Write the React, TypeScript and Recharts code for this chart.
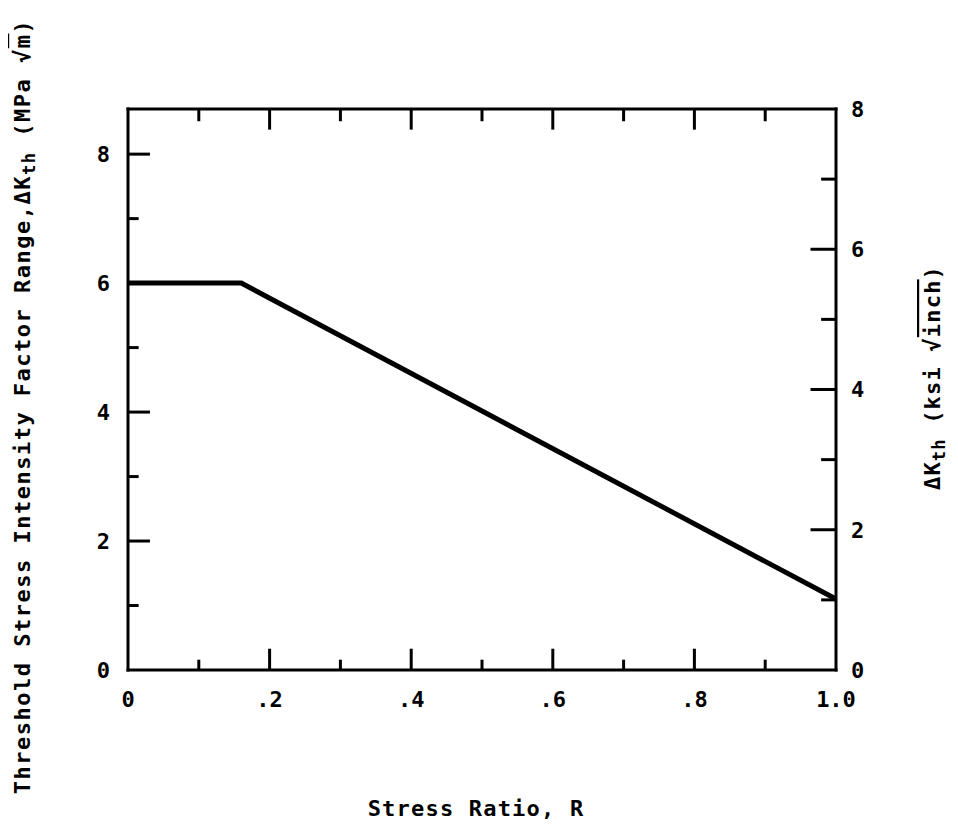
import React from "react";
import { LineChart, Line, XAxis, YAxis, ReferenceLine } from "recharts";

// Data
const stressRatio = [0, 0.16, 1.0];
const deltaKth = [6.0, 6.0, 1.1]; // MPa sqrt(m)

// Axis ticks
const xMajorTicks = [0, 0.2, 0.4, 0.6, 0.8, 1.0];
const xTickLabels = ["0", ".2", ".4", ".6", ".8", "1.0"];
const xMinorTicks = [0.1, 0.3, 0.5, 0.7, 0.9];
const leftMajorTicks = [0, 2, 4, 6, 8];
const leftMinorTicks = [1, 3, 5, 7];
const rightMajorTicks = [0, 2, 4, 6, 8];
const rightMinorTicks = [1, 3, 5, 7];
const leftDomain: [number, number] = [0, 8.7];
const rightDomain: [number, number] = [0, 8];

const data = stressRatio.map((r, i) => ({ r, k: deltaKth[i] }));

const FONT = "'DejaVu Sans Mono', monospace";
const axisLineStyle = { stroke: "#000", strokeWidth: 3, strokeLinecap: "square" as const };
const tickStyle = { fill: "#000", fontFamily: FONT, fontWeight: 700, fontSize: 22 };

const LeftTitle = (props: any) => {
  const vb = props.viewBox || { x: 0, y: 101, width: 120, height: 561 };
  const cx = vb.x + 14;
  const cy = vb.y + vb.height / 2 + 17;
  return (
    <text
      x={cx}
      y={cy}
      transform={`rotate(-90, ${cx}, ${cy})`}
      textAnchor="middle"
      dominantBaseline="central"
      fontFamily={FONT}
      fontWeight={700}
      fontSize={22}
      letterSpacing={1.5}
      fill="#000"
    >
      <tspan>Threshold Stress Intensity Factor Range,ΔK</tspan>
      <tspan dy={7} fontSize={17}>th</tspan>
      <tspan dy={-7}>{"  (MPa √"}</tspan>
      <tspan style={{ textDecoration: "overline" }}>m</tspan>
      <tspan>)</tspan>
    </text>
  );
};

const RightTitle = (props: any) => {
  const vb = props.viewBox || { x: 828, y: 101, width: 114, height: 561 };
  const cx = vb.x + 96;
  const cy = vb.y + vb.height / 2 - 12;
  return (
    <text
      x={cx}
      y={cy}
      transform={`rotate(-90, ${cx}, ${cy})`}
      textAnchor="middle"
      dominantBaseline="central"
      fontFamily={FONT}
      fontWeight={700}
      fontSize={22}
      letterSpacing={1.2}
      fill="#000"
    >
      <tspan>ΔK</tspan>
      <tspan dy={7} fontSize={17}>th</tspan>
      <tspan dy={-7}>{" (ksi √"}</tspan>
      <tspan style={{ textDecoration: "overline" }}>inch</tspan>
      <tspan>)</tspan>
    </text>
  );
};

const BottomTitle = (props: any) => {
  const vb = props.viewBox || { x: 120, y: 662, width: 708, height: 154 };
  return (
    <text
      x={vb.x + vb.width / 2 - 6}
      y={vb.y + 146}
      textAnchor="middle"
      fontFamily={FONT}
      fontWeight={700}
      fontSize={22}
      letterSpacing={1.2}
      fill="#000"
    >
      Stress Ratio, R
    </text>
  );
};

export default function App() {
  const interior = (arr: number[], lo: number, hi: number) => arr.filter((v) => v > lo && v < hi);
  return (
    <div style={{ width: 942, height: 816, background: "#fff" }}>
      <LineChart
        width={942}
        height={816}
        data={data}
        margin={{ top: 101, right: 0, bottom: 0, left: 0 }}
      >
        <XAxis
          dataKey="r"
          type="number"
          domain={[0, 1]}
          ticks={xMajorTicks}
          tickFormatter={(v: number) => xTickLabels[xMajorTicks.indexOf(v)] ?? String(v)}
          height={154}
          tickSize={0}
          tickMargin={21}
          tickLine={false}
          axisLine={axisLineStyle}
          tick={tickStyle}
          interval={0}
          label={{ content: (p: any) => <BottomTitle {...p} /> }}
        />
        <XAxis
          xAxisId="top"
          dataKey="r"
          orientation="top"
          type="number"
          domain={[0, 1]}
          height={0}
          tick={false}
          tickLine={false}
          axisLine={axisLineStyle}
        />
        <YAxis
          yAxisId="left"
          type="number"
          domain={leftDomain}
          ticks={leftMajorTicks}
          width={120}
          tickSize={0}
          tickMargin={18}
          tickLine={false}
          axisLine={axisLineStyle}
          tick={tickStyle}
          interval={0}
          label={{ content: (p: any) => <LeftTitle {...p} /> }}
        />
        <YAxis
          yAxisId="right"
          orientation="right"
          type="number"
          domain={rightDomain}
          ticks={rightMajorTicks}
          width={114}
          tickSize={0}
          tickMargin={15}
          tickLine={false}
          axisLine={axisLineStyle}
          tick={tickStyle}
          interval={0}
          label={{ content: (p: any) => <RightTitle {...p} /> }}
        />

        {/* top border (domain max of left axis) */}
        <ReferenceLine yAxisId="left" y={leftDomain[1]} stroke="#000" strokeWidth={3} strokeLinecap="square" />

        {/* bottom inward ticks */}
        {interior(xMajorTicks, 0, 1).map((v) => (
          <ReferenceLine key={`bM${v}`} yAxisId="left" segment={[{ x: v, y: 0 }, { x: v, y: 0.33 }]} stroke="#000" strokeWidth={3} />
        ))}
        {xMinorTicks.map((v) => (
          <ReferenceLine key={`bm${v}`} yAxisId="left" segment={[{ x: v, y: 0 }, { x: v, y: 0.16 }]} stroke="#000" strokeWidth={3} />
        ))}
        {/* top inward ticks */}
        {interior(xMajorTicks, 0, 1).map((v) => (
          <ReferenceLine key={`tM${v}`} yAxisId="left" segment={[{ x: v, y: leftDomain[1] }, { x: v, y: leftDomain[1] - 0.32 }]} stroke="#000" strokeWidth={3} />
        ))}
        {xMinorTicks.map((v) => (
          <ReferenceLine key={`tm${v}`} yAxisId="left" segment={[{ x: v, y: leftDomain[1] }, { x: v, y: leftDomain[1] - 0.19 }]} stroke="#000" strokeWidth={3} />
        ))}
        {/* left inward ticks */}
        {interior(leftMajorTicks, 0, leftDomain[1]).map((v) => (
          <ReferenceLine key={`lM${v}`} yAxisId="left" segment={[{ x: 0, y: v }, { x: 0.031, y: v }]} stroke="#000" strokeWidth={3} />
        ))}
        {leftMinorTicks.map((v) => (
          <ReferenceLine key={`lm${v}`} yAxisId="left" segment={[{ x: 0, y: v }, { x: 0.015, y: v }]} stroke="#000" strokeWidth={3} />
        ))}
        {/* right inward ticks */}
        {interior(rightMajorTicks, 0, rightDomain[1]).map((v) => (
          <ReferenceLine key={`rM${v}`} yAxisId="right" segment={[{ x: 1, y: v }, { x: 1 - 0.036, y: v }]} stroke="#000" strokeWidth={3} />
        ))}
        {rightMinorTicks.map((v) => (
          <ReferenceLine key={`rm${v}`} yAxisId="right" segment={[{ x: 1, y: v }, { x: 1 - 0.021, y: v }]} stroke="#000" strokeWidth={3} />
        ))}

        {/* invisible series binding the top and right axes */}
        <Line
          xAxisId="top"
          yAxisId="right"
          dataKey="k"
          type="linear"
          stroke="none"
          strokeOpacity={0}
          dot={false}
          activeDot={false}
          legendType="none"
          isAnimationActive={false}
        />
        <Line
          yAxisId="left"
          dataKey="k"
          type="linear"
          stroke="#000"
          strokeWidth={5}
          dot={false}
          isAnimationActive={false}
        />
      </LineChart>
    </div>
  );
}
